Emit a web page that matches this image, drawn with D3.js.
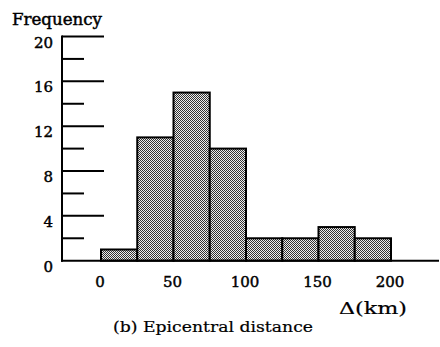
<!DOCTYPE html>
<html><head><meta charset="utf-8">
<script src="https://cdn.jsdelivr.net/npm/d3@7"></script>
<style>body{margin:0;background:#fff}svg{display:block}</style>
</head><body>
<script>
const binStarts = [0, 25, 50, 75, 100, 125, 150, 175];
const binWidth = 25;
const frequencies = [1, 11, 15, 10, 2, 2, 3, 2];
const xTicks = [0, 50, 100, 150, 200];
const yMajorTicks = [0, 4, 8, 12, 16, 20];
const yMinorTicks = [2, 6, 10, 14, 18];

const W = 440, H = 347;
const svg = d3.select("body").append("svg").attr("width", W).attr("height", H);
const font = "DejaVu Serif";

const defs = svg.append("defs");
const pat = defs.append("pattern").attr("id", "stip").attr("patternUnits", "userSpaceOnUse")
  .attr("width", 2).attr("height", 2);
pat.append("rect").attr("width", 2).attr("height", 2).attr("fill", "#eeeeee");
pat.append("rect").attr("width", 1).attr("height", 1).attr("fill", "#333");
pat.append("rect").attr("x", 1).attr("y", 1).attr("width", 1).attr("height", 1).attr("fill", "#333");

const x = d3.scaleLinear().domain([0, 200]).range([101, 391]);
const y = d3.scaleLinear().domain([0, 20]).range([260.7, 36.5]);
const axisX = 62;

function txt(sel, sw) {
  return sel.attr("font-family", font).attr("fill", "#000")
    .attr("stroke", "#000").attr("stroke-width", sw === undefined ? 0.45 : sw);
}

// bars
svg.append("g").selectAll("rect").data(binStarts).join("rect")
  .attr("x", (d) => x(d))
  .attr("y", (d, i) => y(frequencies[i]))
  .attr("width", (d) => x(d + binWidth) - x(d))
  .attr("height", (d, i) => y(0) - y(frequencies[i]))
  .attr("fill", "url(#stip)")
  .attr("stroke", "#000").attr("stroke-width", 2);

// y axis line
svg.append("line").attr("x1", axisX).attr("x2", axisX).attr("y1", y(20) - 1).attr("y2", y(0) + 1)
  .attr("stroke", "#000").attr("stroke-width", 2);
// baseline
svg.append("line").attr("x1", axisX - 1).attr("x2", 439).attr("y1", y(0)).attr("y2", y(0))
  .attr("stroke", "#000").attr("stroke-width", 2);

// major ticks
svg.append("g").selectAll("line").data(yMajorTicks.filter(d => d > 0)).join("line")
  .attr("x1", axisX).attr("x2", 104).attr("y1", d => y(d)).attr("y2", d => y(d))
  .attr("stroke", "#000").attr("stroke-width", 2);
// minor ticks
svg.append("g").selectAll("line").data(yMinorTicks).join("line")
  .attr("x1", axisX).attr("x2", 84).attr("y1", d => y(d)).attr("y2", d => y(d))
  .attr("stroke", "#000").attr("stroke-width", 2);

// y labels
txt(svg.append("g").selectAll("text").data(yMajorTicks).join("text")
  .attr("x", 53).attr("y", d => y(d) + 11)
  .attr("text-anchor", "end")
  .attr("font-size", 15)
  .text(d => d));

// x labels
txt(svg.append("g").selectAll("text").data(xTicks).join("text")
  .attr("x", d => x(d) - 1).attr("y", 287)
  .attr("text-anchor", "middle")
  .attr("font-size", 15)
  .text(d => d));

txt(svg.append("text").attr("x", 12).attr("y", 25)
  .attr("font-size", 16)
  .attr("textLength", 90).attr("lengthAdjust", "spacingAndGlyphs")
  .text("Frequency"));

txt(svg.append("text").attr("x", 339).attr("y", 314)
  .attr("font-size", 17)
  .attr("textLength", 68).attr("lengthAdjust", "spacingAndGlyphs")
  .text("Δ(km)"), 0.2);

txt(svg.append("text").attr("x", 113).attr("y", 332)
  .attr("font-size", 15)
  .attr("textLength", 200).attr("lengthAdjust", "spacingAndGlyphs")
  .text("(b) Epicentral distance"), 0.2);
</script>
</body></html>
